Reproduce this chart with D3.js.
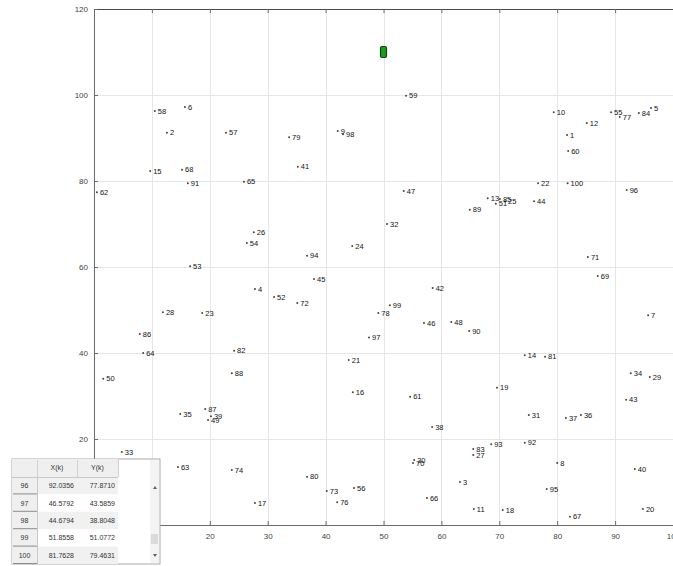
<!DOCTYPE html>
<html>
<head>
<meta charset="utf-8">
<script src="https://cdn.jsdelivr.net/npm/d3@7"></script>
<style>
    html, body { margin: 0; padding: 0; background: #fff; }
    svg { display: block; font-family: "Liberation Sans", "DejaVu Sans", sans-serif; }
</style>
</head>
<body>
<svg id="chart" width="673" height="566"></svg>
<script>
// point labels and their positions
const pointIds = ["1","2","3","4","5","6","7","8","9","10","11","12","13","14","15","16","17","18","19","20",
    "21","22","23","24","25","26","27","28","29","30","31","32","33","34","35","36","37","38","39","40",
    "41","42","43","44","45","46","47","48","49","50","51","52","53","54","55","56","57","58","59","60",
    "61","62","63","64","65","66","67","68","69","70","71","72","73","74","76","77","78","79","80",
    "81","82","83","84","85","86","87","88","89","90","91","92","93","94","95","96","97","98","99","100"];
const pointX = [81.7,12.6,63.2,27.8,96.2,15.7,95.7,80.0,42.1,79.4,65.6,85.1,68.0,74.4,9.7,44.7,27.8,70.6,69.6,94.8,
    44.0,76.7,18.7,44.6,71.0,27.6,65.5,11.9,96.0,55.3,75.1,50.6,4.8,92.7,14.9,84.1,81.5,58.4,20.2,93.4,
    35.2,58.5,91.9,76.0,38.0,57.0,53.5,61.7,19.7,1.6,69.4,31.1,16.6,26.4,89.3,44.9,22.8,10.5,53.9,81.9,
    54.6,0.5,14.5,8.5,25.9,57.5,82.2,15.2,87.0,55.1,85.3,35.1,40.2,23.8,42.0,90.8,49.1,33.7,36.8,
    77.9,24.2,65.5,94.1,70.1,7.9,19.2,23.8,64.9,64.8,16.2,74.4,68.6,36.8,78.2,92.0,47.5,43.0,51.1,81.8];
const pointY = [90.7,91.2,10.0,54.9,97.0,97.2,48.8,14.4,91.6,96.0,3.7,93.5,76.0,39.5,82.3,30.9,5.1,3.5,31.9,3.7,
    38.4,79.5,49.3,64.9,75.3,68.1,16.3,49.5,34.4,15.1,25.6,70.0,17.0,35.3,25.8,25.6,24.9,22.8,25.3,13.0,
    83.3,55.1,29.1,75.3,57.2,47.0,77.7,47.2,24.4,34.0,74.7,53.0,60.2,65.6,96.0,8.6,91.2,96.3,99.8,87.0,
    29.8,77.4,13.5,40.0,79.8,6.3,1.9,82.6,57.9,14.4,62.3,51.6,7.9,12.8,5.3,94.9,49.3,90.2,11.2,
    39.1,40.5,17.7,95.8,75.8,44.4,27.0,35.3,73.3,45.1,79.5,19.1,18.8,62.6,8.4,77.9,43.6,90.9,51.1,79.5];

// the green start marker
const markerX = [50];
const markerY = [110];

const xTicks = [0, 10, 20, 30, 40, 50, 60, 70, 80, 90, 100];
const yTicks = [0, 20, 40, 60, 80, 100, 120];

// table in the lower left corner
const tableColumns = ["X(k)", "Y(k)"];
const tableRows = ["96", "97", "98", "99", "100"];
const tableX = ["92.0356", "46.5792", "44.6794", "51.8558", "81.7628"];
const tableY = ["77.8710", "43.5859", "38.8048", "51.0772", "79.4631"];

const width = 673;
const height = 566;
const margin = { top: 9, right: 0, bottom: 41, left: 94 };

const svg = d3.select("#chart");

const x = d3.scaleLinear().domain([0, 100]).range([margin.left, width - margin.right]);
const y = d3.scaleLinear().domain([0, 120]).range([height - margin.bottom, margin.top]);

function setupGridlines() {
    const g = svg.append("g").attr("stroke", "#e6e6e6").attr("stroke-width", 1);
    g.selectAll("line.vx").data(xTicks).enter().append("line")
        .attr("x1", d => Math.round(x(d)) + 0.5).attr("x2", d => Math.round(x(d)) + 0.5)
        .attr("y1", y(120)).attr("y2", y(0));
    g.selectAll("line.hy").data(yTicks).enter().append("line")
        .attr("y1", d => Math.round(y(d)) + 0.5).attr("y2", d => Math.round(y(d)) + 0.5)
        .attr("x1", x(0)).attr("x2", x(100));
}

function styleAxis(g) {
    g.select(".domain").attr("stroke", "#6b6b6b");
    g.selectAll(".tick line").attr("stroke", "#6b6b6b");
    g.selectAll(".tick text").attr("fill", "#444").attr("font-size", "8px");
}

function setupAxes() {
    svg.append("g")
        .attr("transform", `translate(0,${y(0)})`)
        .call(d3.axisBottom(x).tickValues(xTicks).tickSizeInner(-4).tickSizeOuter(0).tickPadding(8))
        .call(styleAxis);
    svg.append("g")
        .attr("transform", `translate(0,${y(120)})`)
        .call(d3.axisTop(x).tickValues(xTicks).tickSizeInner(-4).tickSizeOuter(0).tickFormat(""))
        .call(styleAxis)
        .call(g => g.select(".domain").attr("stroke", "#4a4a4a"));
    svg.append("g")
        .attr("transform", `translate(${x(0)},0)`)
        .call(d3.axisLeft(y).tickValues(yTicks).tickSizeInner(-4).tickSizeOuter(0).tickPadding(6))
        .call(styleAxis);
}

function setupPoints() {
    const g = svg.append("g");
    const idx = d3.range(pointIds.length);
    g.selectAll("circle").data(idx).enter().append("circle")
        .attr("cx", i => x(pointX[i]))
        .attr("cy", i => y(pointY[i]))
        .attr("r", 1)
        .attr("fill", "#444");
    g.selectAll("text").data(idx).enter().append("text")
        .attr("x", i => x(pointX[i]) + 3)
        .attr("y", i => y(pointY[i]))
        .attr("dy", "0.35em")
        .attr("font-size", "7.5px")
        .attr("fill", "#111")
        .text(i => pointIds[i]);

    svg.append("g").selectAll("rect").data(markerX).enter().append("rect")
        .attr("x", (d, i) => x(d) - 3)
        .attr("y", (d, i) => y(markerY[i]) - 5.5)
        .attr("width", 6)
        .attr("height", 11)
        .attr("rx", 1.5)
        .attr("fill", "#1f9a1f")
        .attr("stroke", "#0a4a0a")
        .attr("stroke-width", 1.2);
}

function setupTable() {
    const left = 12, top = 459, headH = 18, rowH = 17.4;
    const colEdges = [left, 37, 77, 118];
    const right = 160, sbLeft = 150;
    const bottom = top + headH + rowH * tableRows.length;
    const g = svg.append("g").attr("font-size", "7px").attr("fill", "#333");

    g.append("rect").attr("x", left).attr("y", top).attr("width", right - left).attr("height", bottom - top)
        .attr("fill", "#fff").attr("stroke", "#a8a8a8");
    g.append("rect").attr("x", left).attr("y", top).attr("width", colEdges[3] - left).attr("height", headH)
        .attr("fill", "#efefef");
    g.selectAll("rect.band").data(tableRows).enter().append("rect")
        .attr("x", colEdges[1]).attr("y", (d, i) => top + headH + i * rowH)
        .attr("width", colEdges[3] - colEdges[1]).attr("height", rowH)
        .attr("fill", (d, i) => i % 2 === 0 ? "#f1f1f1" : "#fff");
    g.append("rect").attr("x", left).attr("y", top + headH).attr("width", colEdges[1] - left)
        .attr("height", bottom - top - headH).attr("fill", "#efefef");

    // header separators
    g.selectAll("line.hs").data(colEdges.slice(1)).enter().append("line")
        .attr("x1", d => d + 0.5).attr("x2", d => d + 0.5)
        .attr("y1", top + 1).attr("y2", top + headH)
        .attr("stroke", "#d0d0d0");
    g.append("line").attr("x1", left).attr("x2", colEdges[3]).attr("y1", top + headH + 0.5).attr("y2", top + headH + 0.5)
        .attr("stroke", "#c8c8c8");
    // row header underlines
    g.selectAll("line.rs").data(tableRows).enter().append("line")
        .attr("x1", left + 1).attr("x2", colEdges[1])
        .attr("y1", (d, i) => top + headH + (i + 1) * rowH - 0.5)
        .attr("y2", (d, i) => top + headH + (i + 1) * rowH - 0.5)
        .attr("stroke", "#8c8c8c");
    g.append("line").attr("x1", colEdges[1] + 0.5).attr("x2", colEdges[1] + 0.5)
        .attr("y1", top + headH).attr("y2", bottom).attr("stroke", "#c8c8c8");

    g.selectAll("text.ch").data(tableColumns).enter().append("text")
        .attr("x", (d, i) => (colEdges[i + 1] + colEdges[i + 2]) / 2)
        .attr("y", top + headH / 2).attr("dy", "0.35em").attr("text-anchor", "middle")
        .text(d => d);
    g.selectAll("text.rh").data(tableRows).enter().append("text")
        .attr("x", (left + colEdges[1]) / 2)
        .attr("y", (d, i) => top + headH + (i + 0.5) * rowH).attr("dy", "0.35em").attr("text-anchor", "middle")
        .text(d => d);
    g.selectAll("text.cx").data(tableX).enter().append("text")
        .attr("x", colEdges[2] - 3)
        .attr("y", (d, i) => top + headH + (i + 0.5) * rowH).attr("dy", "0.35em").attr("text-anchor", "end")
        .text(d => d);
    g.selectAll("text.cy").data(tableY).enter().append("text")
        .attr("x", colEdges[3] - 3)
        .attr("y", (d, i) => top + headH + (i + 0.5) * rowH).attr("dy", "0.35em").attr("text-anchor", "end")
        .text(d => d);

    // scrollbar
    g.append("rect").attr("x", sbLeft).attr("y", top + 1).attr("width", right - sbLeft - 1).attr("height", bottom - top - 2)
        .attr("fill", "#f4f4f4");
    g.append("rect").attr("x", sbLeft + 1).attr("y", bottom - 30).attr("width", right - sbLeft - 3).attr("height", 10)
        .attr("fill", "#dadada");
    const cx = (sbLeft + right) / 2;
    g.append("path").attr("d", `M${cx - 2},${top + 30} L${cx + 2},${top + 30} L${cx},${top + 27} Z`).attr("fill", "#606060");
    g.append("path").attr("d", `M${cx - 2},${bottom - 10} L${cx + 2},${bottom - 10} L${cx},${bottom - 7} Z`).attr("fill", "#606060");
}

setupGridlines();
setupAxes();
setupPoints();
setupTable();
</script>
</body>
</html>
